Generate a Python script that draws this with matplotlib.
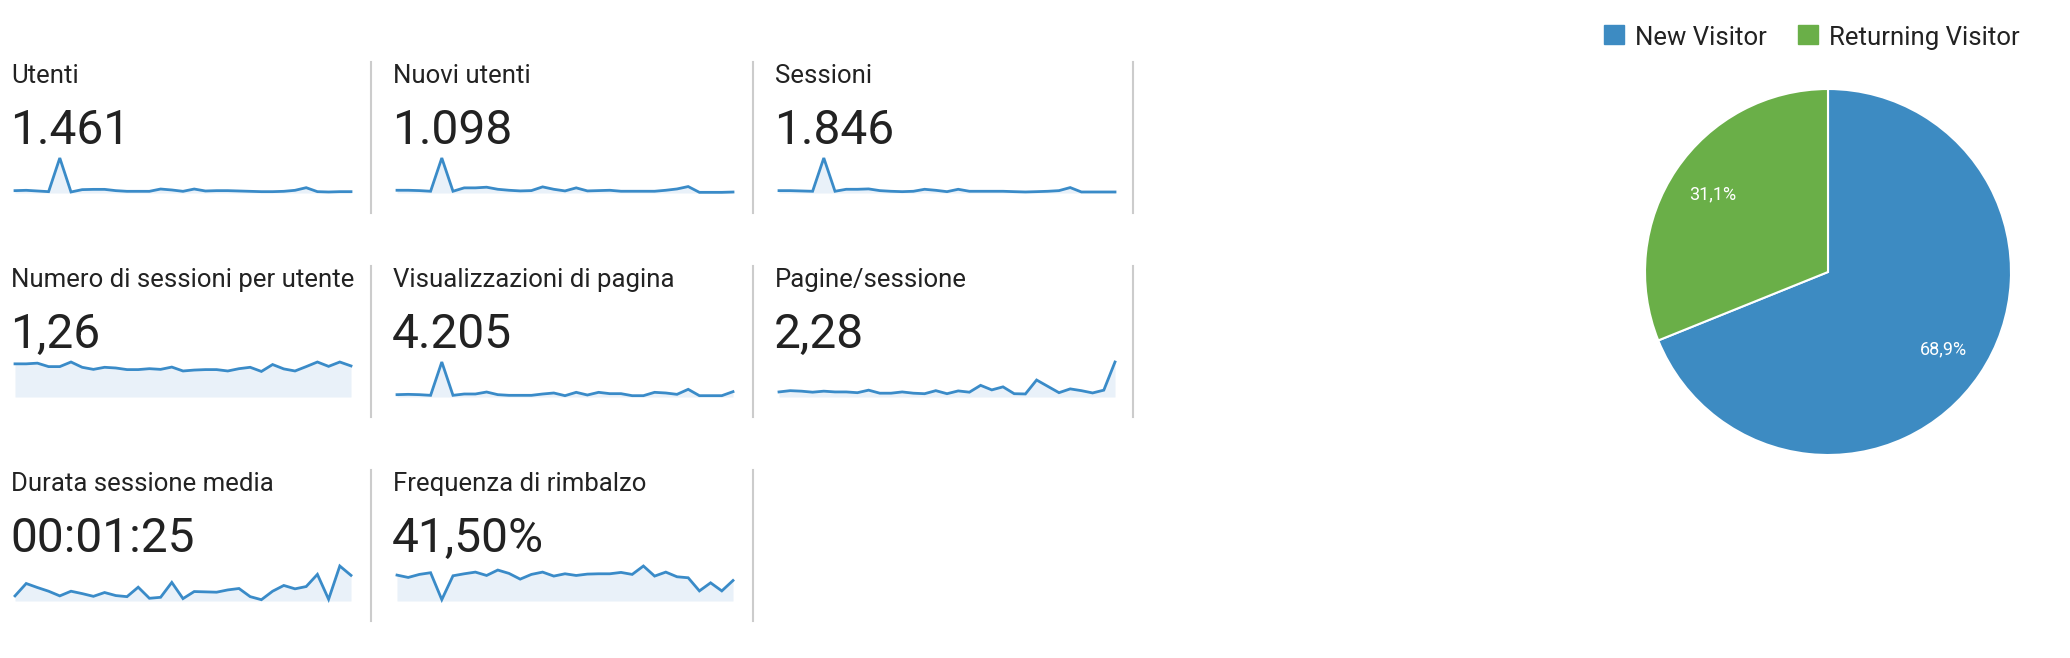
import matplotlib
matplotlib.use("Agg")
import matplotlib.pyplot as plt
from matplotlib.lines import Line2D
from matplotlib.patches import Rectangle

plt.rcParams['font.family'] = ['Roboto', 'DejaVu Sans']

# --- data (daily values over one month) ---
titles = ["Utenti", "Nuovi utenti", "Sessioni",
          "Numero di sessioni per utente", "Visualizzazioni di pagina", "Pagine/sessione",
          "Durata sessione media", "Frequenza di rimbalzo"]
totals = ["1.461", "1.098", "1.846", "1,26", "4.205", "2,28", "00:01:25", "41,50%"]

utenti = [35, 40, 30, 20, 520, 15, 50, 54, 54, 35, 25, 25, 25, 59, 45, 25,
          59, 30, 35, 35, 30, 25, 20, 20, 25, 40, 79, 20, 15, 20, 20]
nuovi_utenti = [25, 25, 22, 16, 320, 16, 47, 47, 53, 34, 25, 19, 22, 56, 34, 19,
                47, 19, 22, 25, 16, 16, 16, 16, 25, 37, 59, 6, 6, 6, 9]
sessioni = [44, 44, 38, 32, 650, 32, 69, 69, 76, 44, 32, 25, 32, 69, 50, 25,
            69, 32, 32, 32, 32, 25, 19, 25, 32, 44, 101, 19, 19, 19, 19]
sessioni_per_utente = [1.44, 1.44, 1.47, 1.32, 1.32, 1.52, 1.29, 1.20, 1.29, 1.26, 1.19,
                       1.19, 1.23, 1.20, 1.30, 1.13, 1.17, 1.19, 1.19, 1.13, 1.23, 1.29,
                       1.11, 1.41, 1.22, 1.13, 1.32, 1.52, 1.33, 1.52, 1.35]
visualizzazioni = [81, 92, 81, 58, 1213, 58, 104, 104, 173, 81, 58, 58, 58, 104, 139, 46,
                   162, 69, 162, 116, 116, 46, 46, 162, 139, 92, 266, 46, 46, 46, 185]
pagine_sessione = [2.0, 2.5, 2.3, 1.9, 2.3, 2.0, 2.0, 1.7, 2.7, 1.5, 1.5, 2.0, 1.5, 1.3,
                   2.5, 1.3, 2.4, 1.9, 4.6, 2.8, 4.0, 1.3, 1.2, 6.7, 4.2, 1.7, 3.2, 2.5,
                   1.6, 2.7, 13.8]
durata_sec = [47, 161, 124, 90, 47, 90, 68, 43, 78, 50, 40, 127, 25, 34, 171, 22,
              87, 84, 81, 102, 115, 40, 12, 90, 143, 112, 133, 245, 16, 322, 236]
rimbalzo = [41.6, 37.8, 42.7, 45.4, 2.2, 40.5, 43.7, 46.4, 41.0, 49.7, 44.3, 35.1, 42.7,
            46.4, 40.0, 43.7, 41.0, 43.2, 43.7, 43.7, 45.9, 42.7, 56.2, 40.0, 46.4, 38.9,
            37.3, 16.2, 29.2, 16.2, 32.9]
series = [utenti, nuovi_utenti, sessioni, sessioni_per_utente, visualizzazioni,
          pagine_sessione, durata_sec, rimbalzo]

visitor_labels = ["New Visitor", "Returning Visitor"]
visitor_share = [68.9, 31.1]
visitor_colors = ["#3d8bc2", "#6aaf48"]

# --- layout in pixels ---
W, H = 2070, 658
def fx(px):
    return px / W
def fy(py):
    return 1 - py / H

line_col = "#3a8bc8"
fill_col = "#e9f1f9"
text_col = "#222222"
sep_col = "#cccccc"

col_sep = [371, 753, 1133]
title_x = [11, 393, 775]
num_x = [10, 392, 774]
spark_x0 = [15, 397, 779]
spark_w = 336
row_off = [0, 204, 408]

fig = plt.figure(figsize=(W / 100, H / 100), dpi=100)

for i, (title, total, vals) in enumerate(zip(titles, totals, series)):
    r, c = divmod(i, 3)
    dy = row_off[r]
    fig.text(fx(title_x[c]), fy(83 + dy), title, fontsize=18.5, color=text_col, va='baseline')
    fig.text(fx(num_x[c]), fy(144 + dy), total, fontsize=34.5, color=text_col, va='baseline')

    ax = fig.add_axes([fx(spark_x0[c]), fy(193 + dy), spark_w / W, 35 / H])
    x = range(len(vals))
    ax.fill_between(x, vals, 0, color=fill_col, lw=0)
    ax.plot(x, vals, color=line_col, lw=2, clip_on=False, solid_joinstyle='miter')
    ax.set_xlim(0, len(vals) - 1)
    ax.set_ylim(0, max(vals))
    ax.axis('off')

    fig.add_artist(Line2D([fx(col_sep[c]), fx(col_sep[c])], [fy(62 + dy), fy(213 + dy)],
                          color=sep_col, lw=1.5))

# pie
r_px = 183
cx, cy = 1828, 272
pax = fig.add_axes([fx(cx - r_px), fy(cy + r_px), 2 * r_px / W, 2 * r_px / H])
wedges, _, autotexts = pax.pie(visitor_share, colors=visitor_colors, startangle=90,
                               counterclock=False, radius=1,
                               autopct=lambda p: f"{p:.1f}%".replace('.', ','),
                               pctdistance=0.76,
                               wedgeprops=dict(edgecolor='white', linewidth=1.5))
for t in autotexts:
    t.set_color('white')
    t.set_fontsize(13)
pax.set_xlim(-1, 1)
pax.set_ylim(-1, 1)
pax.set_aspect('equal')

# legend
leg_sq = [1604, 1798]
for lx, lab, colr in zip(leg_sq, visitor_labels, visitor_colors):
    fig.add_artist(Rectangle((fx(lx), fy(44)), 20 / W, 19 / H, color=colr,
                             transform=fig.transFigure))
    fig.text(fx(lx + 31), fy(45), lab, fontsize=18.5, color=text_col, va='baseline')

fig.savefig("out.png", dpi=100)
